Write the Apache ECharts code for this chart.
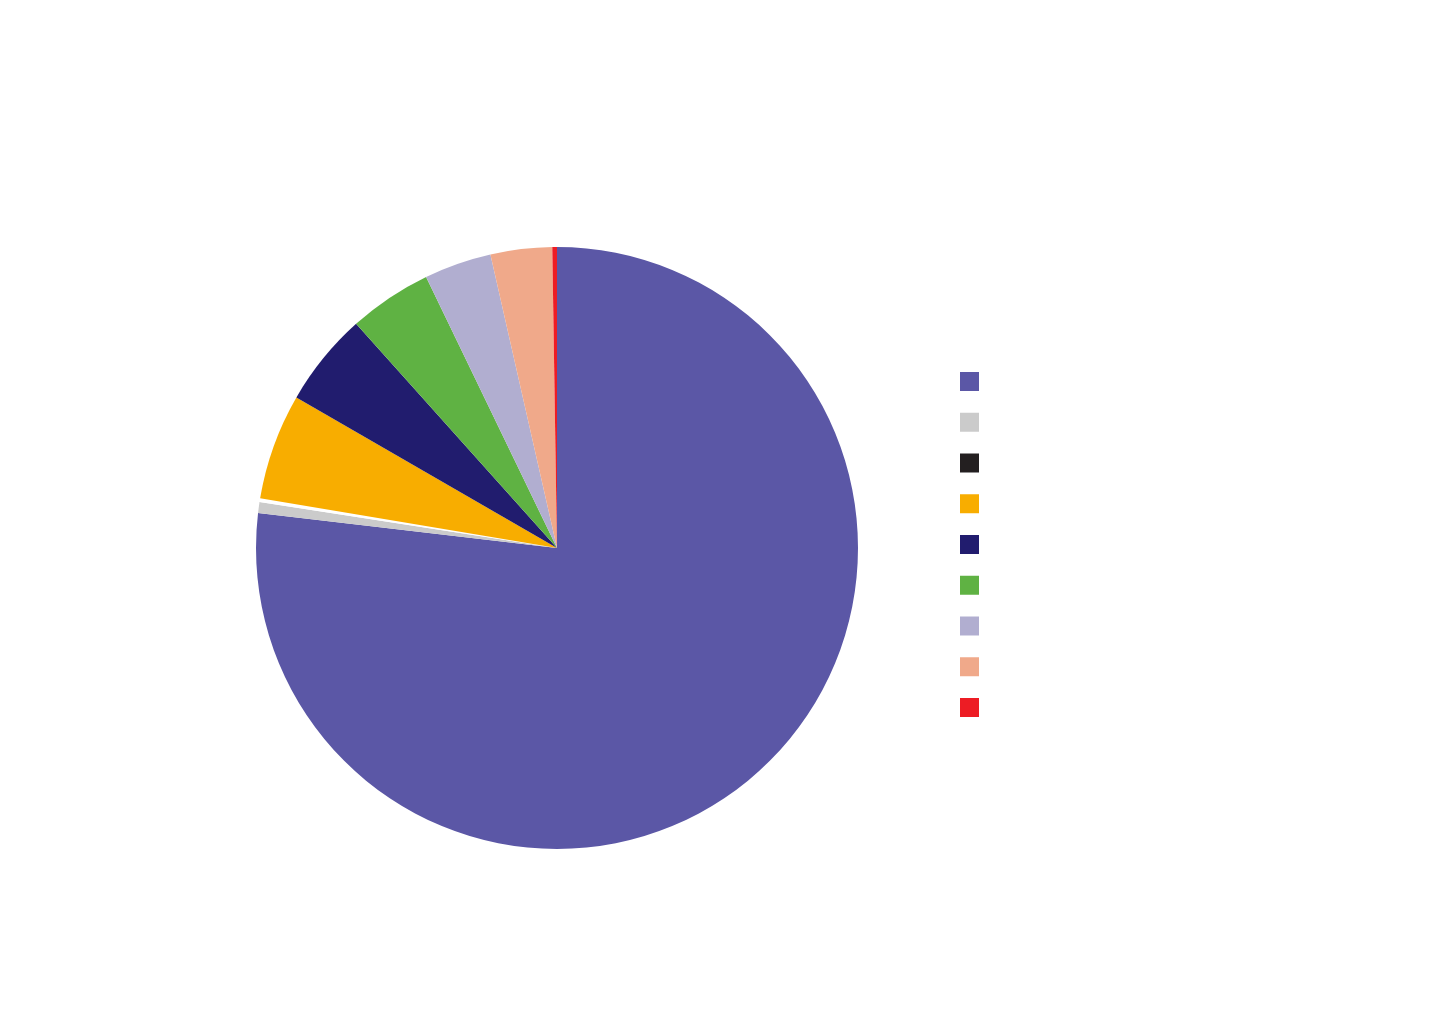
<!DOCTYPE html>
<html>
<head>
<meta charset="utf-8">
<title>Pie</title>
<script src="https://cdn.jsdelivr.net/npm/echarts@6/dist/echarts.min.js"></script>
<style>
  html, body { margin: 0; padding: 0; background: #fff; }
  #chart { width: 1440px; height: 1036px; }
</style>
</head>
<body>
<div id="chart"></div>
<script>
// categories (no labels shown in the reference, so keep generic names)
const categories = ["A", "B", "C", "D", "E", "F", "G", "H", "I"];
// share of each slice, in percent
const values = [76.85, 0.58, 0.2, 5.7, 5.03, 4.47, 3.61, 3.3, 0.25];
// slice colours and legend colours (slice C shows as a white sliver, legend swatch is black)
const slice_colors = ["#5B57A6", "#CBCBCB", "#FFFFFF", "#F8AD00", "#211C6E", "#5FB243", "#B1AED0", "#F0A98A", "#ED1C24"];
const legend_colors = ["#5B57A6", "#CBCBCB", "#231F20", "#F8AD00", "#211C6E", "#5FB243", "#B1AED0", "#F0A98A", "#ED1C24"];

const chart = echarts.init(document.getElementById("chart"));

chart.setOption({
  backgroundColor: "#ffffff",
  animation: false,
  legend: {
    orient: "vertical",
    left: 960,
    top: 372,
    padding: 0,
    itemWidth: 19,
    itemHeight: 19,
    itemGap: 21.75,
    icon: "rect",
    selectedMode: false,
    formatter: () => "",
    data: categories.map((name, i) => ({
      name,
      itemStyle: { color: legend_colors[i] },
    })),
  },
  series: [
    {
      type: "pie",
      center: [557, 548],
      radius: 301,
      startAngle: 90,
      clockwise: true,
      avoidLabelOverlap: false,
      label: { show: false },
      labelLine: { show: false },
      emphasis: { disabled: true },
      data: categories.map((name, i) => ({
        name,
        value: values[i],
        itemStyle: { color: slice_colors[i] },
      })),
    },
  ],
});

window.addEventListener("resize", chart.resize);
</script>
</body>
</html>
